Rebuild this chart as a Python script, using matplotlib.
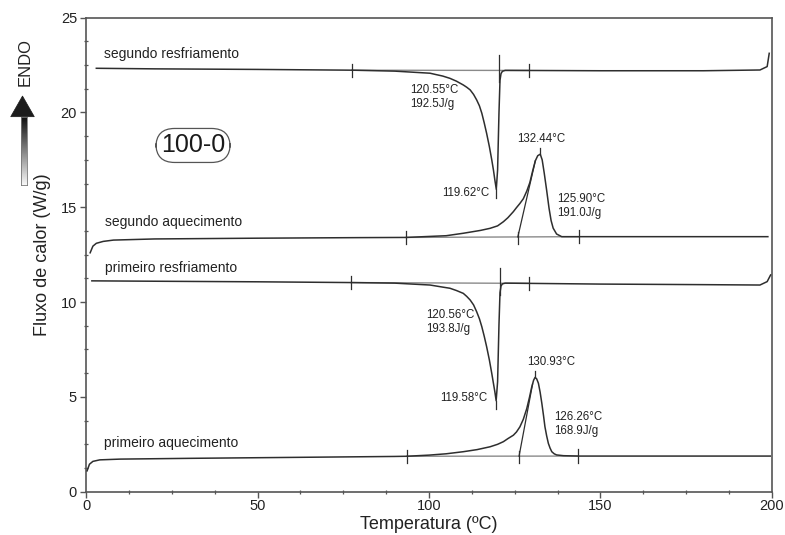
import numpy as np
import matplotlib
matplotlib.use("Agg")
import matplotlib.pyplot as plt
from matplotlib.patches import Polygon
from matplotlib.ticker import MultipleLocator

plt.rcParams['font.family'] = ['Liberation Sans', 'DejaVu Sans']

# ---- DSC curves: temperature (°C) and heat flow (W/g), endo up ----
t_res2 = [3, 20, 50, 77.5, 90, 100.3, 102, 104, 106.1, 108, 110, 111, 112, 113, 113.9, 114.7,
          115.4, 116.1, 116.8, 117.6, 118.3, 118.8, 119.2, 119.62, 120.0, 120.4, 120.7, 121.0,
          121.4, 122.2, 150, 180, 196.5, 198.6, 199.2]
q_res2 = [22.33, 22.3, 22.27, 22.23, 22.18, 22.07, 22.0, 21.92, 21.8, 21.65, 21.45, 21.33, 21.19,
          20.95, 20.66, 20.35, 19.96, 19.45, 18.9, 18.2, 17.5, 16.95, 16.44, 15.95, 16.97, 19.96,
          21.7, 22.05, 22.17, 22.22, 22.2, 22.2, 22.24, 22.42, 23.12]

t_aq2 = [1.2, 2, 3, 5, 8, 20, 50, 80, 93.3, 105, 110, 115, 117.8, 120, 121.7, 123, 124.6,
         125.5, 126.5, 127.5, 128.5, 129.4, 130.2, 131.0, 131.7, 132.44, 133.0, 133.6, 134.3,
         135.0, 135.6, 136.2, 137.2, 138.7, 160, 198.8]
q_aq2 = [12.6, 12.95, 13.1, 13.2, 13.27, 13.33, 13.37, 13.40, 13.41, 13.5, 13.63, 13.78, 13.89,
         14.02, 14.24, 14.45, 14.77, 14.98, 15.2, 15.45, 15.85, 16.3, 16.9, 17.45, 17.72, 17.8,
         17.5, 16.8, 15.9, 14.95, 14.3, 13.9, 13.59, 13.45, 13.45, 13.45]

t_res1 = [1.7, 20, 50, 77.2, 90, 100.3, 102, 104, 106.1, 108, 110, 111, 112, 113, 113.9, 114.7,
          115.4, 116.1, 116.8, 117.6, 118.3, 118.8, 119.2, 119.58, 120.0, 120.4, 120.7, 121.0,
          121.4, 122.2, 150, 180, 196.5, 198.6, 199.6]
q_res1 = [11.12, 11.1, 11.07, 11.03, 11.0, 10.9, 10.85, 10.79, 10.73, 10.61, 10.46, 10.3, 10.11,
          9.85, 9.49, 9.12, 8.7, 8.2, 7.65, 6.95, 6.24, 5.7, 5.27, 4.8, 5.8, 8.8, 10.5, 10.85,
          10.96, 11.0, 10.95, 10.92, 10.9, 11.08, 11.43]

t_aq1 = [0.3, 1, 2, 4, 10, 30, 60, 90, 93.5, 100, 105, 110, 114, 117.8, 120, 121.7, 123,
         124.6, 125.5, 126.5, 127.5, 128.5, 129.3, 129.9, 130.5, 130.93, 131.4, 131.9, 132.4,
         132.9, 133.4, 133.8, 134.3, 134.8, 135.3, 135.8, 136.5, 137.2, 139.2, 143.5, 170, 199.5]
q_aq1 = [1.1, 1.45, 1.6, 1.68, 1.72, 1.76, 1.81, 1.86, 1.87, 1.93, 2.0, 2.11, 2.22, 2.37, 2.5,
         2.64, 2.8, 2.98, 3.15, 3.42, 3.82, 4.38, 4.98, 5.48, 5.88, 6.03, 5.95, 5.72, 5.25, 4.66,
         4.0, 3.43, 2.95, 2.55, 2.3, 2.11, 2.0, 1.94, 1.9, 1.88, 1.88, 1.88]

# ---- analysis results (integration limits, onset, peak, enthalpy) ----
curve_names = ["segundo resfriamento", "segundo aquecimento",
               "primeiro resfriamento", "primeiro aquecimento"]
limits = [(77.5, 129.2), (93.3, 143.7), (77.2, 129.2), (93.5, 143.5)]
onsets = [120.55, 125.90, 120.56, 126.26]
peaks = [119.62, 132.44, 119.58, 130.93]
enthalpies = [192.5, 191.0, 193.8, 168.9]
tangent_ends = [None, 131.0, None, 130.2]
sample_name = "100-0"

curves = [(t_res2, q_res2), (t_aq2, q_aq2), (t_res1, q_res1), (t_aq1, q_aq1)]
is_heating = [False, True, False, True]

fig = plt.figure(figsize=(7.85, 5.35), dpi=100)
ax = fig.add_axes([0.1096, 0.0809, 0.8738, 0.8861])

curve_col = '#2e2e2e'
base_col = '#8a8a8a'
spine_col = '#555555'

for (t, q), (lo, hi), on, pk, heat, te in zip(curves, limits, onsets, peaks,
                                              is_heating, tangent_ends):
    t = np.asarray(t, float)
    q = np.asarray(q, float)
    ylo, yhi = np.interp(lo, t, q), np.interp(hi, t, q)
    # integration baseline
    ax.plot([lo, hi], [ylo, yhi], color=base_col, lw=1.0, zorder=2)
    # data curve
    ax.plot(t, q, color=curve_col, lw=1.1, zorder=3)
    # limit ticks
    for x0, y0 in ((lo, ylo), (hi, yhi)):
        ax.plot([x0, x0], [y0 - 0.35, y0 + 0.35], color=curve_col, lw=0.9, zorder=4)
    ybase_on = ylo + (yhi - ylo) * (on - lo) / (hi - lo)
    ypk = np.interp(pk, t, q)
    if heat:
        ax.plot([on, on], [ybase_on - 0.35, ybase_on + 0.25], color=curve_col, lw=0.9, zorder=4)
        # onset tangent along leading edge
        ax.plot([on, te], [ybase_on, np.interp(te, t, q)], color=curve_col, lw=0.9, zorder=4)
        ax.plot([pk, pk], [ypk, ypk + 0.35], color=curve_col, lw=0.9, zorder=4)
    else:
        ax.plot([on, on], [ybase_on - 0.6, ybase_on + 0.8], color=curve_col, lw=0.9, zorder=4)
        ax.plot([pk, pk], [ypk - 0.45, ypk], color=curve_col, lw=0.9, zorder=4)

# curve names
name_pos = [(5.3, 23.1), (5.5, 14.24), (5.5, 11.78), (5.2, 2.58)]
for name, (x, y) in zip(curve_names, name_pos):
    ax.text(x, y, name, fontsize=10, color='#222222', ha='left', va='center')

# onset / enthalpy labels
ann = dict(fontsize=8.3, color='#222222', linespacing=1.25)
onset_pos = [(94.5, 20.82), (137.5, 15.05), (99.3, 8.94), (136.4, 3.57)]
for on, dh, (x, y) in zip(onsets, enthalpies, onset_pos):
    ax.text(x, y, f"{on:.2f}°C\n{dh:.1f}J/g", ha='left', va='center', **ann)

peak_pos = [(117.6, 15.74, 'right'), (125.7, 18.59, 'left'),
            (117.0, 4.93, 'right'), (128.6, 6.86, 'left')]
for pk, (x, y, ha) in zip(peaks, peak_pos):
    ax.text(x, y, f"{pk:.2f}°C", ha=ha, va='center', **ann)

ax.text(31.2, 18.26, sample_name, fontsize=18, color='#1a1a1a', ha='center', va='center',
        bbox=dict(boxstyle='round,pad=0.2,rounding_size=0.75', fc='white', ec='#555555', lw=0.9))

ax.set_xlim(0, 200)
ax.set_ylim(0, 25)
ax.xaxis.set_major_locator(MultipleLocator(50))
ax.xaxis.set_minor_locator(MultipleLocator(12.5))
ax.yaxis.set_major_locator(MultipleLocator(5))
ax.yaxis.set_minor_locator(MultipleLocator(1.25))
ax.tick_params(which='major', direction='out', length=4.5, width=1.0, color=spine_col,
               labelsize=10.5, labelcolor='#222222', pad=2)
ax.tick_params(axis='x', which='major', pad=0.8)
ax.tick_params(which='minor', direction='inout', length=3.5, width=0.9, color=spine_col)
for s in ax.spines.values():
    s.set_color(spine_col)
    s.set_linewidth(1.2)

ax.set_xlabel("Temperatura (ºC)", fontsize=13, color='#222222', labelpad=2)
ax.set_ylabel("Fluxo de calor (W/g)", fontsize=13, color='#222222', labelpad=7)

# ENDO arrow with gradient shaft
W, H = 785, 535
def fx(px):
    return px / W
def fy(py):
    return 1 - py / H

sh = fig.add_axes([fx(20.7), fy(185), fx(26.7) - fx(20.7), fy(116.7) - fy(185)])
grad = np.linspace(0.05, 0.97, 100)[:, None]
sh.imshow(grad, cmap='gray', aspect='auto', extent=[0, 1, 0, 1], origin='upper',
          vmin=0, vmax=1)
sh.set_xticks([])
sh.set_yticks([])
for s in sh.spines.values():
    s.set_color('#777777')
    s.set_linewidth(0.6)

head = Polygon([[fx(10.7), fy(116.7)], [fx(34.3), fy(116.7)], [fx(22.5), fy(96)]],
               closed=True, transform=fig.transFigure, fc='#1c1c1c', ec='#1c1c1c', lw=0.5)
fig.patches.append(head)
fig.text(fx(25), fy(61.7), "ENDO", rotation=90, fontsize=12, color='#222222',
         ha='center', va='center')

fig.savefig("out.png", dpi=100)
